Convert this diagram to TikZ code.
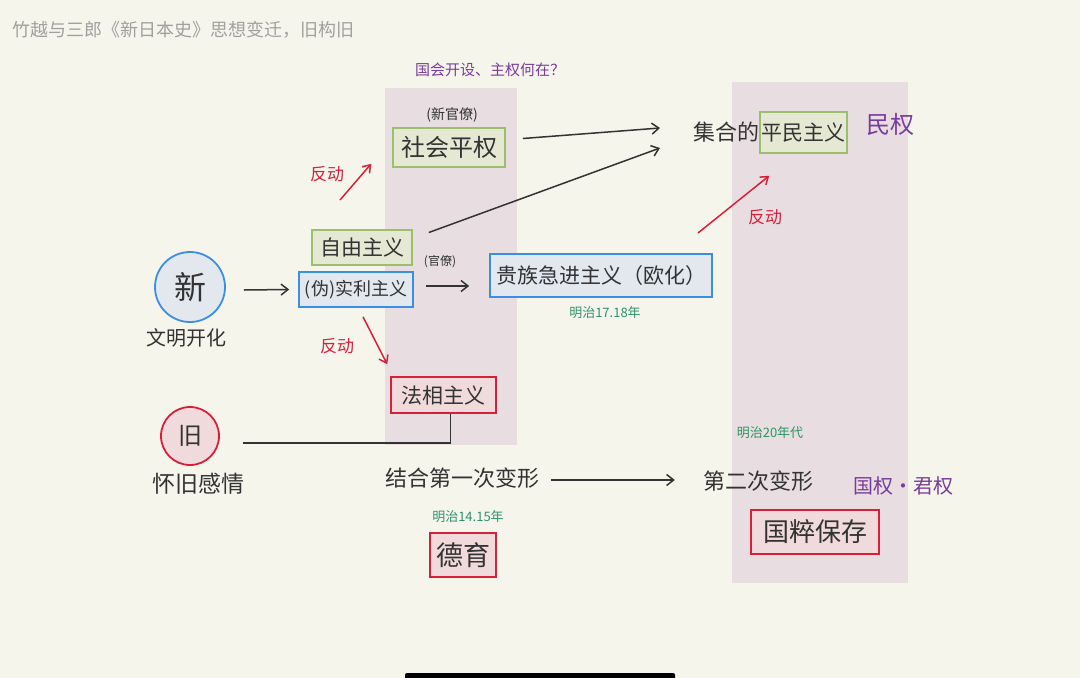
\documentclass[tikz,border=0pt]{standalone}
\usepackage{fontspec}
\setmainfont{Noto Sans CJK SC}
\usetikzlibrary{arrows.meta,calc}
\definecolor{bg}{HTML}{F6F5EB}
\definecolor{panel}{HTML}{E8DDE1}
\definecolor{ink}{HTML}{333333}
\definecolor{gborder}{HTML}{9DBE6C}
\definecolor{gfill}{HTML}{E5E8D2}
\definecolor{bborder}{HTML}{3A8EE6}
\definecolor{bfill}{HTML}{E3E8EE}
\definecolor{rborder}{HTML}{D8203A}
\definecolor{rfill}{HTML}{F1DADC}
\definecolor{redink}{HTML}{D8203A}
\definecolor{greenink}{HTML}{2F9464}
\definecolor{purpleink}{HTML}{7A3C9C}
\definecolor{titlegray}{HTML}{A0A0A0}
\newcommand{\fs}[1]{\fontsize{#1}{#1}\selectfont}
\tikzset{
  txt/.style={inner sep=0pt, text=ink},
  gbox/.style={draw=gborder, fill=gfill, line width=1.6pt, inner sep=0pt, text=ink},
  bbox/.style={draw=bborder, fill=bfill, line width=1.6pt, inner sep=0pt, text=ink},
  rbox/.style={draw=rborder, fill=rfill, line width=1.6pt, inner sep=0pt, text=ink},
  arr/.style={draw=ink, line width=1.5pt, -{Straight Barb[length=7pt,width=11pt]}},
  rarr/.style={draw=redink, line width=1.5pt, -{Straight Barb[length=7pt,width=10pt]}},
  conn/.style={draw=ink, line width=1.5pt},
  redlbl/.style={inner sep=0pt, text=redink, font=\fs{17}},
  greenlbl/.style={inner sep=0pt, text=greenink, font=\fs{13}},
  purplelbl/.style={inner sep=0pt, text=purpleink},
}
\begin{document}
\begin{tikzpicture}[x=1pt,y=-1pt]
\fill[bg] (0,0) rectangle (1080,678);
\useasboundingbox (0,0) rectangle (1080,678);
% panels
\fill[panel] (385,88) rectangle (517,445);
\fill[panel] (732,82) rectangle (908,583);
% bottom bar
\fill[black, rounded corners=2pt] (405,673) rectangle (675,680);

% title
\node[inner sep=0pt, anchor=west, text=titlegray, font=\fs{18}] (title) at (12,30) {竹越与三郎《新日本史》思想变迁，旧构旧};

% top
\node[purplelbl, font=\fs{15}] (guohui) at (490,70) {国会开设、主权何在？};
\node[txt, font=\fs{14}] (xinguan) at (452,115) {(新官僚)};
\node[gbox, minimum width=112, minimum height=39, font=\fs{24}] (shehui) at (449,147.5) {社会平权};

\node[gbox, minimum width=87, minimum height=41, font=\fs{21}] (pingmin) at (803.5,132.5) {平民主义};
\node[txt, anchor=east, font=\fs{22}] (jihe) at (pingmin.west) {集合的};
\node[purplelbl, font=\fs{24}] (minquan) at (890,124) {民权};
\coordinate (t1) at (660,128);
\coordinate (t2) at (660,148);

% left middle
\node[circle, draw=bborder, fill=bfill, line width=1.8pt, minimum size=70, inner sep=0pt, text=ink, font=\fs{32}] (xin) at (190,287) {新};
\node[txt, font=\fs{20}] (wenming) at (186,338) {文明开化};
\node[gbox, minimum width=100, minimum height=35, font=\fs{21}] (ziyou) at (362,247.5) {自由主义};
\node[bbox, minimum width=114, minimum height=35, font=\fs{18}] (shili) at (356,289.5) {(伪)实利主义};
\node[txt, font=\fs{12}] (guanliao) at (440,262) {(官僚)};
\node[bbox, minimum width=222, minimum height=43, font=\fs{21}] (guizu) at (601,275.5) {贵族急进主义（欧化）};
\node[greenlbl] (m1718) at (605,313) {明治17.18年};

\draw[arr] ($(xin.east)+(18,3)$) -- ($(shili.west)+(-9,0)$);
\draw[arr] ($(shili.east)+(12,-3.5)$) -- ($(guizu.west)+(-20,10.5)$);
\draw[arr] (shehui.east) ++(17,-9) -- (t1);
\draw[arr] (ziyou.east) ++(16,-15) -- (t2);

% reactions
\node[redlbl] (fd1) at (327,174) {反动};
\coordinate (r1s) at (340,200);
\draw[rarr] (r1s) -- ($(shehui.south west)+(-21,-4)$);
\node[redlbl] (fd2) at (337,346) {反动};
\node[rbox, minimum width=105, minimum height=36, font=\fs{21}] (faxiang) at (443.5,395) {法相主义};
\draw[rarr] ($(shili.south)+(7,9)$) -- ($(faxiang.north west)+(-3,-12)$);
\node[redlbl] (fd3) at (765,217) {反动};
\coordinate (r3s) at (698,233);
\draw[rarr] (r3s) -- ($(pingmin.south west)+(10,22)$);

% old
\node[circle, draw=rborder, fill=rfill, line width=1.8pt, minimum size=58, inner sep=0pt, text=ink, font=\fs{24}] (jiu) at (190,436) {旧};
\node[txt, font=\fs{23}] (huaijiu) at (198,484) {怀旧感情};
\draw[conn] ($(jiu.east)+(23,7)$) -| ($(faxiang.south)+(7,0)$);

% bottom row
\node[txt, font=\fs{22}] (jiehe) at (462,478) {结合第一次变形};
\node[txt, font=\fs{22}] (dier) at (758,481) {第二次变形};
\draw[arr] ($(jiehe.east)+(12,2)$) -- ($(dier.west)+(-28,-1)$);
\node[greenlbl] (m20) at (770,433) {明治20年代};
\node[purplelbl, font=\fs{20}] (guoquan) at (903,486) {国权·君权};
\node[rbox, minimum width=128, minimum height=44, font=\fs{26}] (guocui) at (815,532) {国粹保存};
\node[greenlbl] (m1415) at (468,517) {明治14.15年};
\node[rbox, minimum width=66, minimum height=44, font=\fs{27}] (deyu) at (463,555) {德育};
\end{tikzpicture}
\end{document}
